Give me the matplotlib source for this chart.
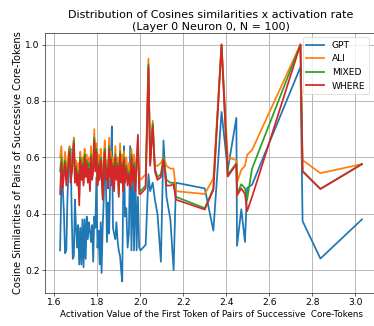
import matplotlib
matplotlib.use("Agg")
import matplotlib.pyplot as plt

x_act = [
    1.627, 1.633, 1.639, 1.645, 1.650, 1.656, 1.661, 1.666, 1.671, 1.676,
    1.681, 1.686, 1.691, 1.696, 1.701, 1.706, 1.711, 1.716, 1.721, 1.726,
    1.731, 1.736, 1.741, 1.746, 1.751, 1.756, 1.761, 1.766, 1.771, 1.776,
    1.781, 1.786, 1.791, 1.796, 1.801, 1.806, 1.811, 1.816, 1.820, 1.825,
    1.830, 1.835, 1.840, 1.845, 1.850, 1.855, 1.860, 1.864, 1.868, 1.873,
    1.878, 1.884, 1.889, 1.895, 1.900, 1.906, 1.911, 1.916, 1.920, 1.924,
    1.929, 1.935, 1.941, 1.947, 1.953, 1.959, 1.965, 1.971, 1.977, 1.983,
    1.989, 1.995, 2.001, 2.025, 2.038, 2.046, 2.058, 2.068, 2.080, 2.096,
    2.108, 2.122, 2.140, 2.155, 2.166, 2.300, 2.340, 2.378, 2.407, 2.447,
    2.450, 2.470, 2.487, 2.497, 2.520, 2.745, 2.755, 2.838, 3.031,
]

gpt = [
    0.27, 0.50, 0.50, 0.40, 0.26, 0.27, 0.45, 0.55, 0.62, 0.63,
    0.40, 0.24, 0.25, 0.45, 0.35, 0.28, 0.36, 0.22, 0.35, 0.22,
    0.38, 0.21, 0.38, 0.24, 0.39, 0.31, 0.37, 0.34, 0.30, 0.36,
    0.23, 0.39, 0.35, 0.53, 0.28, 0.34, 0.22, 0.37, 0.19, 0.35,
    0.45, 0.62, 0.52, 0.30, 0.44, 0.33, 0.52, 0.60, 0.71, 0.35,
    0.33, 0.31, 0.37, 0.30, 0.27, 0.25, 0.20, 0.16, 0.44, 0.64,
    0.39, 0.42, 0.28, 0.33, 0.64, 0.27, 0.56, 0.27, 0.57, 0.27,
    0.46, 0.28, 0.27, 0.29, 0.54, 0.48, 0.51, 0.45, 0.40, 0.23,
    0.66, 0.46, 0.38, 0.20, 0.51, 0.49, 0.34, 0.761, 0.556, 0.74,
    0.286, 0.416, 0.30, 0.491, 0.503, 0.92, 0.374, 0.241, 0.38,
]

ali = [
    0.60, 0.64, 0.55, 0.57, 0.62, 0.55, 0.58, 0.61, 0.64, 0.55,
    0.58, 0.62, 0.67, 0.55, 0.59, 0.54, 0.58, 0.50, 0.62, 0.55,
    0.60, 0.53, 0.63, 0.57, 0.61, 0.55, 0.60, 0.52, 0.64, 0.56,
    0.58, 0.70, 0.58, 0.65, 0.53, 0.61, 0.55, 0.63, 0.57, 0.50,
    0.60, 0.66, 0.55, 0.59, 0.53, 0.67, 0.56, 0.62, 0.54, 0.60,
    0.52, 0.64, 0.56, 0.60, 0.50, 0.65, 0.55, 0.61, 0.54, 0.62,
    0.56, 0.60, 0.54, 0.58, 0.53, 0.63, 0.55, 0.61, 0.53, 0.60,
    0.62, 0.53, 0.52, 0.54, 0.95, 0.58, 0.73, 0.57, 0.57, 0.58,
    0.60, 0.57, 0.56, 0.56, 0.48, 0.47, 0.526, 1.0, 0.60, 0.59,
    0.51, 0.556, 0.57, 0.609, 0.626, 1.0, 0.59, 0.544, 0.576,
]

mixed = [
    0.55, 0.60, 0.53, 0.55, 0.59, 0.52, 0.56, 0.58, 0.63, 0.53,
    0.55, 0.61, 0.66, 0.52, 0.57, 0.52, 0.55, 0.46, 0.60, 0.53,
    0.58, 0.51, 0.61, 0.55, 0.59, 0.53, 0.58, 0.50, 0.61, 0.53,
    0.56, 0.67, 0.56, 0.63, 0.51, 0.58, 0.53, 0.60, 0.55, 0.47,
    0.58, 0.63, 0.53, 0.57, 0.51, 0.64, 0.54, 0.60, 0.52, 0.58,
    0.50, 0.61, 0.53, 0.58, 0.47, 0.62, 0.52, 0.58, 0.50, 0.60,
    0.53, 0.57, 0.52, 0.55, 0.50, 0.61, 0.52, 0.58, 0.50, 0.58,
    0.67, 0.49, 0.48, 0.50, 0.93, 0.58, 0.72, 0.56, 0.53, 0.54,
    0.60, 0.52, 0.51, 0.51, 0.46, 0.42, 0.49, 1.0, 0.538, 0.579,
    0.47, 0.505, 0.49, 0.45, 0.56, 1.0, 0.552, 0.488, 0.576,
]

where = [
    0.47, 0.58, 0.49, 0.54, 0.58, 0.50, 0.55, 0.57, 0.62, 0.51,
    0.54, 0.60, 0.65, 0.51, 0.56, 0.50, 0.54, 0.43, 0.59, 0.52,
    0.57, 0.50, 0.60, 0.53, 0.58, 0.51, 0.56, 0.48, 0.60, 0.52,
    0.55, 0.66, 0.55, 0.62, 0.50, 0.57, 0.52, 0.59, 0.54, 0.45,
    0.57, 0.62, 0.52, 0.56, 0.49, 0.63, 0.53, 0.59, 0.50, 0.57,
    0.48, 0.60, 0.52, 0.57, 0.46, 0.61, 0.51, 0.57, 0.48, 0.59,
    0.51, 0.56, 0.50, 0.54, 0.49, 0.60, 0.51, 0.57, 0.48, 0.57,
    0.68, 0.47, 0.47, 0.49, 0.92, 0.57, 0.71, 0.55, 0.52, 0.53,
    0.59, 0.50, 0.50, 0.505, 0.45, 0.415, 0.485, 1.0, 0.532, 0.576,
    0.465, 0.49, 0.47, 0.409, 0.46, 1.0, 0.55, 0.488, 0.576,
]

series_names = ["GPT", "ALI", "MIXED", "WHERE"]
title = "Distribution of Cosines similarities x activation rate\n(Layer 0 Neuron 0, N = 100)"
xlabel = "Activation Value of the First Token of Pairs of Successive  Core-Tokens"
ylabel = "Cosine Similarities of Pairs of Successive Core-Tokens"

DPI = 52.5
plt.rcParams["font.size"] = 12.5
fig = plt.figure(figsize=(374 / DPI, 326 / DPI), dpi=DPI)
ax = fig.add_axes([45 / 374, 32.7 / 326, 332 / 374, 260.6 / 326])

for name, ys in zip(series_names, [gpt, ali, mixed, where]):
    ax.plot(x_act, ys, label=name, linewidth=2.4)

ax.grid(True, linewidth=1.2)
ax.set_title(title, fontsize=15.2, pad=4)
ax.set_xlabel(xlabel, fontsize=12.0, labelpad=3)
ax.set_ylabel(ylabel, fontsize=13.5, labelpad=3)
ax.tick_params(labelsize=12.5)
ax.legend(loc="upper right", bbox_to_anchor=(0.9898, 1.0), fontsize=12.5)

fig.savefig("out.png", dpi=DPI)
